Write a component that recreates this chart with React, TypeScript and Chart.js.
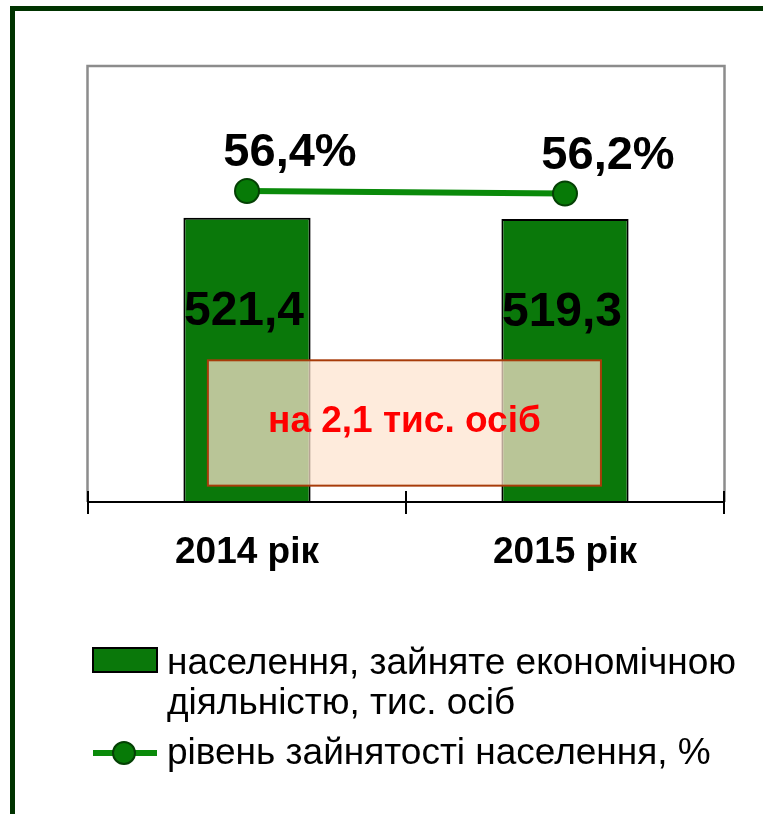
import React, { useEffect, useRef } from 'react';
import { Chart, registerables } from 'chart.js';

Chart.register(...registerables);

// ---- data ----
const categories = ['2014 рік', '2015 рік'];
const employed = [521.4, 519.3];
const employmentRate = [56.4, 56.2];
const employedLegend = ['населення, зайняте економічною', 'діяльністю, тис. осіб'];
const rateLegend = ['рівень зайнятості населення, %'];
const changeNote = 'на 2,1 тис. осіб';

const FONT = '"Liberation Sans", Arial, sans-serif';
const fmt = (v: number, suffix = '') => v.toFixed(1).replace('.', ',') + suffix;

const BAR_GREEN = '#0a780a';
const LINE_GREEN = '#0a8a0a';

export default function App() {
  const ref = useRef<HTMLCanvasElement>(null);

  useEffect(() => {
    const canvas = ref.current!;

    const decor = {
      id: 'decor',
      beforeDraw(chart: any) {
        const { ctx, width, height } = chart;
        ctx.save();
        ctx.fillStyle = '#ffffff';
        ctx.fillRect(0, 0, width, height);
        ctx.strokeStyle = '#003300';
        ctx.lineWidth = 5;
        ctx.strokeRect(12.5, 8.5, width + 40, height + 40);
        ctx.restore();
      },
      beforeDatasetsDraw(chart: any) {
        const { ctx, chartArea: a } = chart;
        ctx.save();
        ctx.strokeStyle = '#8c8c8c';
        ctx.lineWidth = 2.5;
        ctx.beginPath();
        ctx.moveTo(a.left - 0.5, a.bottom);
        ctx.lineTo(a.left - 0.5, a.top);
        ctx.lineTo(a.right + 0.5, a.top);
        ctx.lineTo(a.right + 0.5, a.bottom);
        ctx.stroke();
        ctx.restore();
      },
      afterDatasetsDraw(chart: any) {
        const { ctx, chartArea: a, scales } = chart;
        const xs = scales.x;
        const ys = scales.y;
        ctx.save();
        // translucent note box
        const bx1 = xs.getPixelForValue(-0.123);
        const bx2 = xs.getPixelForValue(1.113);
        const by1 = ys.getPixelForValue(260);
        const by2 = ys.getPixelForValue(30);
        ctx.fillStyle = 'rgba(254,227,206,0.72)';
        ctx.fillRect(bx1, by1, bx2 - bx1, by2 - by1);
        ctx.strokeStyle = '#a83c0a';
        ctx.lineWidth = 2;
        ctx.strokeRect(bx1, by1, bx2 - bx1, by2 - by1);
        ctx.fillStyle = '#ff0000';
        ctx.font = `bold 37px ${FONT}`;
        ctx.textAlign = 'center';
        ctx.textBaseline = 'alphabetic';
        ctx.fillText(changeNote, (bx1 + bx2) / 2, by1 + 72);

        // axis line and crossing ticks
        ctx.strokeStyle = '#000';
        ctx.lineWidth = 2;
        ctx.beginPath();
        ctx.moveTo(a.left, a.bottom);
        ctx.lineTo(a.right, a.bottom);
        for (let i = 0; i <= categories.length; i++) {
          const x = Math.round(xs.getPixelForValue(i - 0.5));
          ctx.moveTo(x, a.bottom - 11);
          ctx.lineTo(x, a.bottom + 12);
        }
        ctx.stroke();

        // bar value labels
        ctx.fillStyle = '#000';
        ctx.font = `bold 48px ${FONT}`;
        const barMeta = chart.getDatasetMeta(0);
        barMeta.data.forEach((el: any, i: number) => {
          ctx.fillText(fmt(employed[i]), el.x - 3, el.y + 107);
        });
        // line value labels
        ctx.font = `bold 47px ${FONT}`;
        const lineMeta = chart.getDatasetMeta(1);
        lineMeta.data.forEach((el: any, i: number) => {
          ctx.fillText(fmt(employmentRate[i], '%'), el.x + 43, el.y - 25);
        });
        ctx.restore();
      },
      afterDraw(chart: any) {
        const { ctx } = chart;
        const ds = chart.data.datasets;
        ctx.save();
        // bar legend item
        ctx.fillStyle = ds[0].backgroundColor;
        ctx.fillRect(93, 648, 64, 24);
        ctx.strokeStyle = '#000';
        ctx.lineWidth = 2;
        ctx.strokeRect(93, 648, 64, 24);
        // line legend item
        ctx.strokeStyle = ds[1].borderColor;
        ctx.lineWidth = 6;
        ctx.beginPath();
        ctx.moveTo(93, 753);
        ctx.lineTo(157, 753);
        ctx.stroke();
        ctx.beginPath();
        ctx.arc(124, 753, 11, 0, Math.PI * 2);
        ctx.fillStyle = ds[1].pointBackgroundColor;
        ctx.fill();
        ctx.strokeStyle = ds[1].pointBorderColor;
        ctx.lineWidth = 2;
        ctx.stroke();
        // legend texts
        ctx.fillStyle = '#000';
        ctx.font = `37px ${FONT}`;
        ctx.textAlign = 'left';
        ctx.textBaseline = 'alphabetic';
        const l1: string[] = ds[0].legendLines;
        l1.forEach((t, i) => ctx.fillText(t, 167, 674 + i * 40));
        const l2: string[] = ds[1].legendLines;
        l2.forEach((t, i) => ctx.fillText(t, 167, 764 + i * 40));
        ctx.restore();
      },
    };

    const chart = new Chart(canvas, {
      type: 'bar',
      data: {
        labels: categories,
        datasets: [
          {
            type: 'bar',
            label: employedLegend.join(' '),
            legendLines: employedLegend,
            data: employed,
            yAxisID: 'y',
            backgroundColor: BAR_GREEN,
            borderColor: '#000000',
            borderWidth: 2,
            barPercentage: 0.4,
            categoryPercentage: 1,
            order: 2,
          } as any,
          {
            type: 'line',
            label: rateLegend.join(' '),
            legendLines: rateLegend,
            data: employmentRate,
            yAxisID: 'y2',
            borderColor: LINE_GREEN,
            borderWidth: 6,
            pointRadius: 12,
            pointHoverRadius: 12,
            pointBackgroundColor: '#077a07',
            pointBorderColor: '#044004',
            pointBorderWidth: 2,
            order: 1,
          } as any,
        ],
      },
      options: {
        responsive: false,
        animation: false,
        devicePixelRatio: 1,
        layout: { padding: { left: 88, right: 39, top: 66, bottom: 0 } },
        plugins: { legend: { display: false }, tooltip: { enabled: false } },
        scales: {
          x: {
            offset: true,
            grid: { display: false },
            border: { display: false },
            ticks: {
              color: '#000',
              font: { family: FONT, size: 37, weight: 'bold' },
              padding: 21,
              maxRotation: 0,
            },
            afterFit(scale: any) {
              scale.height = 312;
            },
          },
          y: { display: false, min: 0, max: 800 },
          y2: { display: false, min: 32.5, max: 66 },
        },
      } as any,
      plugins: [decor],
    });

    return () => chart.destroy();
  }, []);

  return (
    <div style={{ position: 'absolute', left: 0, top: 0, width: 763, height: 814 }}>
      <canvas ref={ref} width={763} height={814} style={{ display: 'block' }} />
    </div>
  );
}
